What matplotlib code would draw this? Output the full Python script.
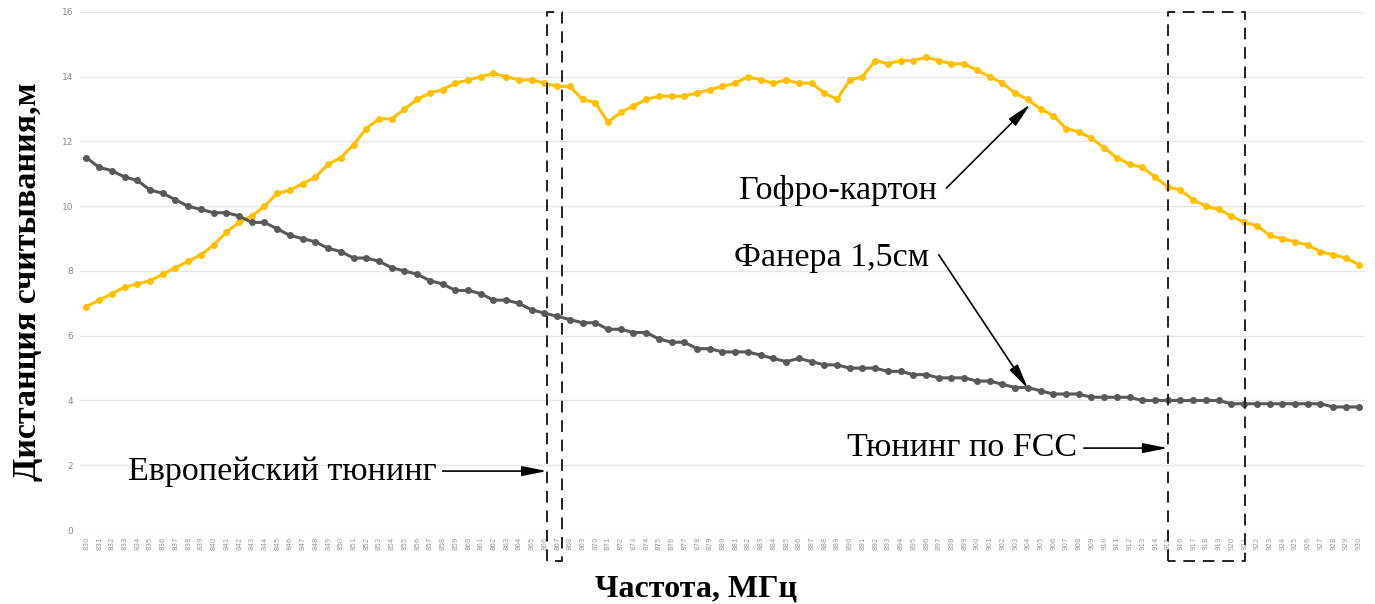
import matplotlib
matplotlib.use('Agg')
import matplotlib.pyplot as plt
import numpy as np

# -------------------------------
# data
# -------------------------------
freq = list(range(830, 931))

karton = [
    6.9, 7.1, 7.3, 7.5, 7.6, 7.7, 7.9, 8.1, 8.3, 8.5,      # 830-839
    8.8, 9.2, 9.5, 9.7, 10.0, 10.4, 10.5, 10.7, 10.9, 11.3,  # 840-849
    11.5, 11.9, 12.4, 12.7, 12.7, 13.0, 13.3, 13.5, 13.6, 13.8,  # 850-859
    13.9, 14.0, 14.1, 14.0, 13.9, 13.9, 13.8, 13.7, 13.7, 13.3,  # 860-869
    13.2, 12.6, 12.9, 13.1, 13.3, 13.4, 13.4, 13.4, 13.5, 13.6,  # 870-879
    13.7, 13.8, 14.0, 13.9, 13.8, 13.9, 13.8, 13.8, 13.5, 13.3,  # 880-889
    13.9, 14.0, 14.5, 14.4, 14.5, 14.5, 14.6, 14.5, 14.4, 14.4,  # 890-899
    14.2, 14.0, 13.8, 13.5, 13.3, 13.0, 12.8, 12.4, 12.3, 12.1,  # 900-909
    11.8, 11.5, 11.3, 11.2, 10.9, 10.6, 10.5, 10.2, 10.0, 9.9,   # 910-919
    9.7, 9.5, 9.4, 9.1, 9.0, 8.9, 8.8, 8.6, 8.5, 8.4,            # 920-929
    8.2,                                                          # 930
]

fanera = [
    11.5, 11.2, 11.1, 10.9, 10.8, 10.5, 10.4, 10.2, 10.0, 9.9,   # 830-839
    9.8, 9.8, 9.7, 9.5, 9.5, 9.3, 9.1, 9.0, 8.9, 8.7,            # 840-849
    8.6, 8.4, 8.4, 8.3, 8.1, 8.0, 7.9, 7.7, 7.6, 7.4,            # 850-859
    7.4, 7.3, 7.1, 7.1, 7.0, 6.8, 6.7, 6.6, 6.5, 6.4,            # 860-869
    6.4, 6.2, 6.2, 6.1, 6.1, 5.9, 5.8, 5.8, 5.6, 5.6,            # 870-879
    5.5, 5.5, 5.5, 5.4, 5.3, 5.2, 5.3, 5.2, 5.1, 5.1,            # 880-889
    5.0, 5.0, 5.0, 4.9, 4.9, 4.8, 4.8, 4.7, 4.7, 4.7,            # 890-899
    4.6, 4.6, 4.5, 4.4, 4.4, 4.3, 4.2, 4.2, 4.2, 4.1,            # 900-909
    4.1, 4.1, 4.1, 4.0, 4.0, 4.0, 4.0, 4.0, 4.0, 4.0,            # 910-919
    3.9, 3.9, 3.9, 3.9, 3.9, 3.9, 3.9, 3.9, 3.8, 3.8,            # 920-929
    3.8,                                                          # 930
]

yticks = [0, 2, 4, 6, 8, 10, 12, 14, 16]

x_label = "Частота, МГц"
y_label = "Дистанция считывания,м"

# -------------------------------
# styles
# -------------------------------
plt.rcParams["font.family"] = ["Liberation Serif", "DejaVu Serif"]

fig = plt.figure(figsize=(13.75, 6.04), dpi=100)
ax = fig.add_axes([0.0582, 0.1225, 0.9345, 0.8577])

idx = np.arange(len(freq))

ax.plot(idx, karton, color="#FFC000", lw=2.2, marker="o", markersize=4, zorder=3)
ax.plot(idx, fanera, color="#595959", lw=2.2, marker="o", markersize=4, zorder=3)

ax.set_xlim(-0.5, len(freq) - 0.5)
ax.set_ylim(0, 16)
ax.set_yticks(yticks)
ax.set_xticks(idx)
ax.set_xticklabels([str(f) for f in freq], rotation=90, fontsize=5,
                   color="#9a9a9a", family="DejaVu Sans")
ax.set_yticklabels([str(t) for t in yticks], fontsize=6.5, color="#8a8a8a",
                   family="DejaVu Sans")
ax.tick_params(length=0, pad=5)
ax.grid(axis="y", color="#e6e6e6", lw=1)
for s in ax.spines.values():
    s.set_visible(False)
ax.set_axisbelow(True)

ax.set_xlabel(x_label, fontsize=23, fontweight="bold")
ax.set_ylabel(y_label, fontsize=24.5, fontweight="bold")
ax.yaxis.set_label_coords(-0.029, 0.48)
ax.xaxis.set_label_coords(0.479, -0.085)


def pos(f):
    # frequency -> category position
    return f - freq[0]


# dashed frames (EU / FCC bands)
for f0, f1 in [(866.2, 867.4), (915.0, 921.1)]:
    ax.plot([pos(f0), pos(f0), pos(f1), pos(f1), pos(f0)],
            [-0.95, 16, 16, -0.95, -0.95],
            color="#222222", lw=1.4, ls=(0, (6, 4)), clip_on=False, zorder=4)

arrow = dict(arrowstyle="-|>,head_length=1.5,head_width=0.3", color="black",
             lw=1.2, shrinkA=0, shrinkB=0)
txt = dict(fontsize=24.5, va="center", color="black")

ax.text(pos(889.1), 10.5, "Гофро-картон", ha="center", **txt)
ax.annotate("", xy=(pos(904.2), 13.15), xytext=(pos(897.6), 10.56), arrowprops=arrow)

ax.text(pos(888.6), 8.4, "Фанера 1,5см", ha="center", **txt)
ax.annotate("", xy=(pos(904.0), 4.37), xytext=(pos(897.0), 8.5), arrowprops=arrow)

ax.text(pos(845.4), 1.8, "Европейский тюнинг", ha="center", **txt)
ax.annotate("", xy=(pos(866.2), 1.82), xytext=(pos(858.0), 1.82), arrowprops=arrow)

ax.text(pos(898.8), 2.55, "Тюнинг по FCC", ha="center", **txt)
ax.annotate("", xy=(pos(915.0), 2.53), xytext=(pos(908.4), 2.53), arrowprops=arrow)

fig.savefig("out.png", dpi=100)
plt.close(fig)
